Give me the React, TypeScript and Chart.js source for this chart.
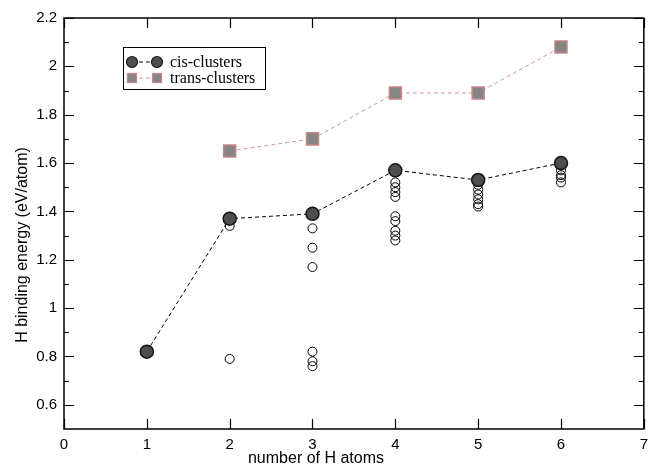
import React, { useEffect, useRef } from 'react';
import { Chart, registerables } from 'chart.js';

Chart.register(...registerables);

// ---- data ----
const cisX = [1, 2, 3, 4, 5, 6];
const cisY = [0.82, 1.37, 1.39, 1.57, 1.53, 1.6];
const transX = [2, 3, 4, 5, 6];
const transY = [1.65, 1.7, 1.89, 1.89, 2.08];
const isomerX = [2, 2, 3, 3, 3, 3, 3, 3, 4, 4, 4, 4, 4, 4, 4, 4, 4, 5, 5, 5, 5, 5, 5, 6, 6, 6, 6, 6];
const isomerY = [
  1.34, 0.79,
  1.33, 1.25, 1.17, 0.82, 0.78, 0.76,
  1.52, 1.5, 1.48, 1.46, 1.38, 1.36, 1.32, 1.3, 1.28,
  1.51, 1.49, 1.47, 1.45, 1.43, 1.42,
  1.59, 1.57, 1.55, 1.54, 1.52,
];
const xTicks = [0, 1, 2, 3, 4, 5, 6, 7];
const yMajorTicks = [0.6, 0.8, 1, 1.2, 1.4, 1.6, 1.8, 2, 2.2];
const yMinorTicks = [0.7, 0.9, 1.1, 1.3, 1.5, 1.7, 1.9, 2.1];
const seriesLabels = ['cis-clusters', 'trans-clusters', 'other isomers'];
const xTitle = 'number of H atoms';
const yTitle = 'H binding energy (eV/atom)';

const SANS = '"Liberation Sans", Arial, Helvetica, sans-serif';
const SERIF = '"Liberation Serif", "Times New Roman", serif';

const CIS_FILL = '#4e4e4e';
const CIS_EDGE = '#151515';
const TRANS_FILL = '#858585';
const TRANS_EDGE = '#c98585';
const TRANS_LINE = '#c99a9a';

const framePlugin = {
  id: 'frameTicksLegend',
  afterDraw(chart: any) {
    const { ctx, chartArea: a, scales } = chart;
    const xs = scales.x;
    const ys = scales.y;
    ctx.save();
    // frame
    ctx.strokeStyle = '#000';
    ctx.lineWidth = 1.5;
    ctx.strokeRect(a.left, a.top, a.right - a.left, a.bottom - a.top);
    // ticks (inward)
    ctx.lineWidth = 1.2;
    ctx.beginPath();
    xTicks.forEach((v) => {
      const px = Math.round(xs.getPixelForValue(v)) + 0.5;
      ctx.moveTo(px, a.bottom);
      ctx.lineTo(px, a.bottom - 10);
      ctx.moveTo(px, a.top);
      ctx.lineTo(px, a.top + 10);
    });
    yMajorTicks.forEach((v) => {
      const py = Math.round(ys.getPixelForValue(v)) + 0.5;
      ctx.moveTo(a.left, py);
      ctx.lineTo(a.left + 10, py);
      ctx.moveTo(a.right, py);
      ctx.lineTo(a.right - 10, py);
    });
    yMinorTicks.forEach((v) => {
      const py = Math.round(ys.getPixelForValue(v)) + 0.5;
      ctx.moveTo(a.left, py);
      ctx.lineTo(a.left + 5, py);
      ctx.moveTo(a.right, py);
      ctx.lineTo(a.right - 5, py);
    });
    ctx.stroke();

    // axis titles
    ctx.fillStyle = '#000';
    ctx.font = `16px ${SANS}`;
    ctx.textAlign = 'center';
    ctx.textBaseline = 'alphabetic';
    ctx.fillText(xTitle, 316, 463);
    ctx.save();
    ctx.translate(27, 245);
    ctx.rotate(-Math.PI / 2);
    ctx.fillText(yTitle, 0, 0);
    ctx.restore();

    // legend
    const ds = chart.data.datasets;
    ctx.lineWidth = 1;
    ctx.strokeStyle = '#000';
    ctx.strokeRect(123.5, 47.5, 142, 42);
    const rows = [62, 78];
    // cis row
    ctx.setLineDash([4, 3]);
    ctx.strokeStyle = '#000';
    ctx.beginPath();
    ctx.moveTo(132, rows[0]);
    ctx.lineTo(157, rows[0]);
    ctx.stroke();
    ctx.strokeStyle = TRANS_LINE;
    ctx.beginPath();
    ctx.moveTo(132, rows[1]);
    ctx.lineTo(157, rows[1]);
    ctx.stroke();
    ctx.setLineDash([]);
    [132, 157].forEach((cx) => {
      ctx.beginPath();
      ctx.arc(cx, rows[0], 5.5, 0, Math.PI * 2);
      ctx.fillStyle = CIS_FILL;
      ctx.fill();
      ctx.strokeStyle = CIS_EDGE;
      ctx.lineWidth = 1.2;
      ctx.stroke();
      ctx.fillStyle = TRANS_FILL;
      ctx.fillRect(cx - 4.5, rows[1] - 4.5, 9, 9);
      ctx.strokeStyle = TRANS_EDGE;
      ctx.strokeRect(cx - 4.5, rows[1] - 4.5, 9, 9);
    });
    ctx.fillStyle = '#000';
    ctx.font = `16px ${SERIF}`;
    ctx.textAlign = 'left';
    ctx.textBaseline = 'middle';
    ctx.fillText(ds[0].label, 170, rows[0] + 1);
    ctx.fillText(ds[1].label, 170, rows[1] + 1);
    ctx.restore();
  },
};

export default function App() {
  const ref = useRef<HTMLCanvasElement>(null);
  useEffect(() => {
    if (!ref.current) return;
    const tickFont = { family: SANS, size: 15 };
    const chart = new Chart(ref.current, {
      type: 'scatter',
      data: {
        datasets: [
          {
            label: seriesLabels[0],
            data: cisX.map((x, i) => ({ x, y: cisY[i] })),
            showLine: true,
            borderColor: '#000',
            borderWidth: 1,
            borderDash: [4, 3],
            pointRadius: 6.5,
            pointBackgroundColor: CIS_FILL,
            pointBorderColor: CIS_EDGE,
            pointBorderWidth: 1.5,
            order: 1,
          },
          {
            label: seriesLabels[1],
            data: transX.map((x, i) => ({ x, y: transY[i] })),
            showLine: true,
            borderColor: TRANS_LINE,
            borderWidth: 1,
            borderDash: [4, 3],
            pointStyle: 'rect',
            pointRadius: 8.5,
            pointBackgroundColor: TRANS_FILL,
            pointBorderColor: TRANS_EDGE,
            pointBorderWidth: 1.5,
            order: 2,
          },
          {
            label: seriesLabels[2],
            data: isomerX.map((x, i) => ({ x, y: isomerY[i] })),
            showLine: false,
            pointRadius: 4.5,
            pointBackgroundColor: 'rgba(255,255,255,0)',
            pointBorderColor: '#000',
            pointBorderWidth: 1,
            order: 3,
          },
        ],
      },
      options: {
        responsive: false,
        animation: false,
        devicePixelRatio: 1,
        layout: { padding: { top: 18, right: 9, left: 0, bottom: 0 } },
        plugins: { legend: { display: false }, tooltip: { enabled: false } },
        scales: {
          x: {
            type: 'linear',
            min: 0,
            max: 7,
            afterBuildTicks: (s: any) => {
              s.ticks = xTicks.map((v) => ({ value: v }));
            },
            afterFit: (s: any) => {
              s.height = 43;
            },
            grid: { display: false, drawTicks: false },
            border: { display: false },
            ticks: {
              padding: 7,
              color: '#000',
              font: tickFont,
              maxRotation: 0,
              callback: (v: any) => String(v),
            },
          },
          y: {
            type: 'linear',
            min: 0.5,
            max: 2.2,
            afterBuildTicks: (s: any) => {
              s.ticks = yMajorTicks.map((v) => ({ value: v }));
            },
            afterFit: (s: any) => {
              s.width = 64;
            },
            grid: { display: false, drawTicks: false },
            border: { display: false },
            ticks: {
              padding: 7,
              color: '#000',
              font: tickFont,
              callback: (v: any) => String(Number(Number(v).toFixed(1))),
            },
          },
        },
      },
      plugins: [framePlugin],
    } as any);
    return () => chart.destroy();
  }, []);
  return (
    <div style={{ position: 'absolute', left: 0, top: 0, width: 655, height: 472, background: '#fff' }}>
      <canvas ref={ref} width={655} height={472} style={{ display: 'block' }} />
    </div>
  );
}
